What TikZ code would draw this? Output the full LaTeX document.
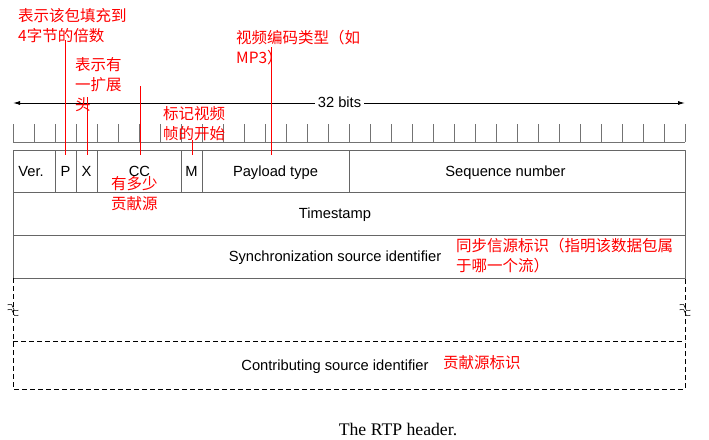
\documentclass[tikz,border=0pt]{standalone}
\usepackage{fontspec}
\setmainfont{Liberation Serif}
\setsansfont{Liberation Sans}
\newfontfamily\cjk{Noto Sans CJK SC}
\usetikzlibrary{arrows.meta}
\tikzset{
  field/.style={anchor=base,inner sep=0pt,font=\sffamily\fontsize{14.7}{17}\selectfont},
  note/.style={anchor=base west,inner sep=0pt,align=left,text=red,font=\cjk\fontsize{15.5}{20}\selectfont},
  noteline/.style={red,line width=0.8pt},
  frame/.style={black!60,line width=0.9pt},
  tick/.style={black!55,line width=0.9pt},
  brk/.style={black,line width=0.5pt}
}
\begin{document}
\begin{tikzpicture}[x=1pt,y=-1pt,>={Latex[length=7pt,width=4pt]},line join=round]
\useasboundingbox (0,0) rectangle (709,439);
% corners of the header
\coordinate (NW) at (13,150.5);
\coordinate (NE) at (685,150.5);
\coordinate (SW) at (13,278);
\coordinate (SE) at (685,278);
\coordinate (DW) at (13,389);
\coordinate (DE) at (685,389);
% 32 bits
\coordinate (AL) at (13,103);
\coordinate (AR) at (685,103);
\draw[<->,line width=0.9pt] (AL) -- (AR);
\node[fill=white,inner sep=3pt,font=\sffamily\fontsize{14.7}{17}\selectfont] (bits) at (339.5,102.5) {32 bits};
% ruler
\draw[tick] (13,142) -- (685,142);
\foreach \i in {0,...,32}
  \draw[tick] ({13+21*\i},124) -- ({13+21*\i},142);
% solid rows
\draw[frame] (NW) rectangle (SE);
\draw[frame] (13,192) -- (685,192);
\draw[frame] (13,235) -- (685,235);
\foreach \x in {55,76,97,181,202,349}
  \draw[frame] (\x,150.5) -- (\x,192);
% dashed rows
\draw[dashed,dash pattern=on 5pt off 3pt,line width=0.9pt] (SW) -- (DW) -- (DE) -- (SE);
\draw[dashed,dash pattern=on 5pt off 3pt,line width=0.9pt] (13,341) -- (685,341);
% breaks
\foreach \bx in {13,685}
  \foreach \dy in {-2.5,2.5}
    \draw[brk,shift={(\bx,310+\dy)},rotate=-25] (-6,0) sin (-3,-2) cos (0,0) sin (3,2) cos (6,0);
% fields
\node[field] (V) at (31,176) {Ver.};
\node[field] (P) at (65.5,176) {P};
\node[field] (X) at (86.5,176) {X};
\node[field] (CC) at (139.5,176) {CC};
\node[field] (M) at (191.5,176) {M};
\node[field] (PT) at (275.5,176) {Payload type};
\node[field] (SN) at (505.5,176) {Sequence number};
\node[field] (TS) at (335,218) {Timestamp};
\node[field] (SSRC) at (335,261) {Synchronization source identifier};
\node[field] (CSRC) at (335,370) {Contributing source identifier};
% notes (placed at the baseline of their last line)
\node[note] (nP) at (18,41.5) {表示该包填充到\\4字节的倍数};
\node[note] (nX) at (75,110) {表示有\\一扩展\\头};
\node[note] (nCC) at (111,209) {有多少\\贡献源};
\node[note] (nM) at (163,139) {标记视频\\帧的开始};
\node[note] (nPT) at (236,63) {视频编码类型（如\\MP3）};
\node[note] (nSSRC) at (456,271) {同步信源标识（指明该数据包属\\于哪一个流）};
\node[note] (nCSRC) at (443,368) {贡献源标识};
% note lines
\coordinate (P1) at (65,40);   \coordinate (P2) at (65,155);
\coordinate (X1) at (87,97);   \coordinate (X2) at (87,155);
\coordinate (C1) at (140,86);  \coordinate (C2) at (140,155);
\coordinate (M1) at (192,140); \coordinate (M2) at (192,155);
\coordinate (T1) at (271,47);  \coordinate (T2) at (271,155);
\draw[noteline] (P1) -- (P2);
\draw[noteline] (X1) -- (X2);
\draw[noteline] (C1) -- (C2);
\draw[noteline] (M1) -- (M2);
\draw[noteline] (T1) -- (T2);
% caption
\node[anchor=base,inner sep=0pt,font=\fontsize{17.7}{20}\selectfont] (cap) at (398,435) {The RTP header.};
\end{tikzpicture}
\end{document}
